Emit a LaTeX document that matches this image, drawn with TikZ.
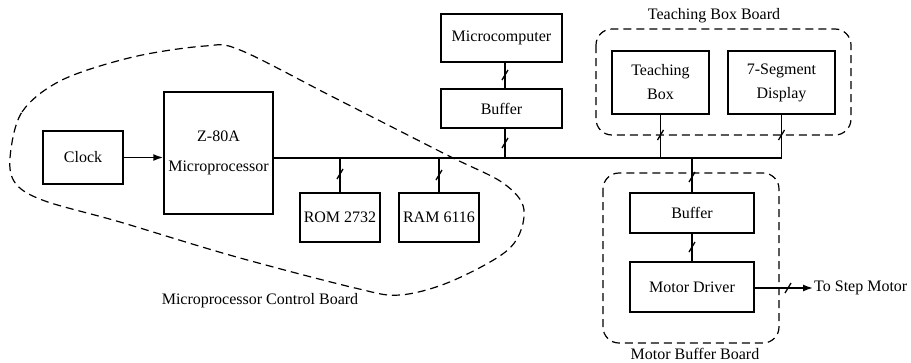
\documentclass[tikz,border=0pt]{standalone}
\usepackage{fontspec}
\setmainfont{Liberation Serif}
\usetikzlibrary{arrows.meta}
\begin{document}
\begin{tikzpicture}[x=1pt,y=-1pt,
  blk/.style={draw,line width=1.5pt,rectangle,inner sep=0pt,align=center,font=\fontsize{16}{24}\selectfont},
  wire/.style={line width=1.5pt},
  board/.style={draw,line width=1.2pt,dash pattern=on 8pt off 5pt,rounded corners=16pt},
  lbl/.style={font=\fontsize{16}{18}\selectfont},
  bustick/.pic={\draw[line width=1.3pt] (-3,5)--(3,-5);}
]
\useasboundingbox (0,0) rectangle (911,362);
% blocks
\node[blk,minimum width=80pt,minimum height=53pt] (clock) at (83,157.5) {Clock};
\node[blk,minimum width=109pt,minimum height=122pt] (z80) at (218.5,153) {Z-80A\\[6pt]Microprocessor};
\node[blk,minimum width=80pt,minimum height=49pt] (rom) at (340,217.5) {ROM 2732};
\node[blk,minimum width=80pt,minimum height=49pt] (ram) at (439,217.5) {RAM 6116};
\node[blk,minimum width=121pt,minimum height=48pt] (mc) at (501.5,38) {Microcomputer};
\node[blk,minimum width=121pt,minimum height=39pt] (buf1) at (501.5,108.5) {Buffer};
\node[blk,minimum width=97pt,minimum height=63pt] (tb) at (660.5,82.5) {Teaching\\Box};
\node[blk,minimum width=107pt,minimum height=63pt] (seg) at (781.5,82.5) {7-Segment\\Display};
\node[blk,minimum width=124pt,minimum height=40pt] (buf2) at (692,213) {Buffer};
\node[blk,minimum width=124pt,minimum height=50pt] (md) at (692,287) {Motor Driver};
% boards
\draw[board] (596,29) rectangle (851,135);
\draw[board] (603,173) rectangle (779,343);
\draw[line width=1.2pt,dash pattern=on 8pt off 5pt] plot[smooth cycle,tension=0.55] coordinates
 {(10,158) (22,112) (62,80) (133,57) (205,46) (240,50) (333,97) (447,155) (503,183) (524,210) (510,248) (452,281) (400,295) (355,288) (233,256) (120,222) (45,201) (16,184)};
\node[lbl] (tbb) at (714,16) {Teaching Box Board};
\node[lbl] (mbb) at (695,354) {Motor Buffer Board};
\node[lbl] (mcb) at (260,301) {Microprocessor Control Board};
% bus
\coordinate (busR) at (782,158);
\coordinate (out) at (813,288);
\draw[wire] (z80.east |- busR) -- (busR);
\draw[wire,-{Latex[length=10pt,width=7pt]}] (clock.east) -- (z80.west |- clock.east);
\draw[wire] (rom.north) -- (rom.north |- busR);
\draw[wire] (ram.north) -- (ram.north |- busR);
\draw[wire] ([xshift=3.5pt]mc.south) -- ([xshift=3.5pt]buf1.north);
\draw[wire] ([xshift=3.5pt]buf1.south) -- ([xshift=3.5pt]buf1.south |- busR);
\draw[wire] (tb.south) -- (tb.south |- busR);
\draw[wire] (seg.south) -- (seg.south |- busR);
\draw[wire] (buf2.north) -- (buf2.north |- busR);
\draw[wire] (buf2.south) -- (md.north);
\draw[wire,-{Latex[length=10pt,width=7pt]}] (md.east |- out) -- (out);
\node[lbl,anchor=west,inner sep=1pt] (tsm) at (out) {To Step Motor};
% ticks
\pic at (340,174) {bustick};
\pic at (439,175) {bustick};
\pic at (505,75) {bustick};
\pic at (505,143) {bustick};
\pic at (660.5,135) {bustick};
\pic at (781.5,135) {bustick};
\pic at (692,177) {bustick};
\pic at (692,247) {bustick};
\pic at (788,288) {bustick};
\end{tikzpicture}
\end{document}
